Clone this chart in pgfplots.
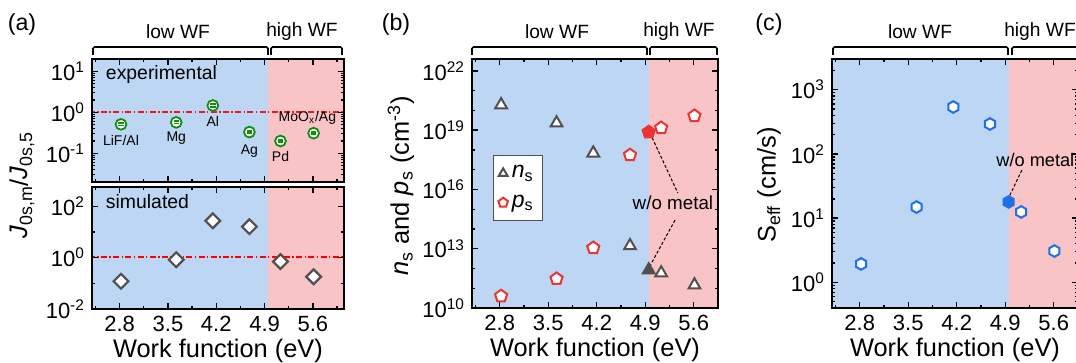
\documentclass[border=0pt]{standalone}
\usepackage{fontspec}
\setmainfont{Liberation Sans}
\usepackage{pgfplots}
\pgfplotsset{compat=1.18}
\usetikzlibrary{plotmarks}
\definecolor{bgblue}{RGB}{189,214,244}
\definecolor{bgred}{RGB}{248,196,198}
\definecolor{mgreen}{RGB}{20,140,20}
\definecolor{mred}{RGB}{236,52,52}
\definecolor{mblue}{RGB}{28,112,232}
\definecolor{mgrey}{RGB}{80,80,80}
\definecolor{refred}{RGB}{235,25,25}

\pgfdeclareplotmark{hexagon}{%
  \pgfpathmoveto{\pgfqpointpolar{90}{\pgfplotmarksize}}%
  \pgfpathlineto{\pgfqpointpolar{150}{\pgfplotmarksize}}%
  \pgfpathlineto{\pgfqpointpolar{210}{\pgfplotmarksize}}%
  \pgfpathlineto{\pgfqpointpolar{270}{\pgfplotmarksize}}%
  \pgfpathlineto{\pgfqpointpolar{330}{\pgfplotmarksize}}%
  \pgfpathlineto{\pgfqpointpolar{30}{\pgfplotmarksize}}%
  \pgfpathclose\pgfusepathqfillstroke}
\pgfdeclareplotmark{ocirc}{%
  \pgfpathcircle{\pgfpointorigin}{\pgfplotmarksize}%
  \pgfusepathqfillstroke
  \pgfpathmoveto{\pgfqpoint{-0.5\pgfplotmarksize}{0.22\pgfplotmarksize}}%
  \pgfpathlineto{\pgfqpoint{0.5\pgfplotmarksize}{0.22\pgfplotmarksize}}%
  \pgfpathmoveto{\pgfqpoint{-0.5\pgfplotmarksize}{-0.22\pgfplotmarksize}}%
  \pgfpathlineto{\pgfqpoint{0.5\pgfplotmarksize}{-0.22\pgfplotmarksize}}%
  \pgfusepathqstroke}

\newcommand{\tfont}{\fontsize{11}{13}\selectfont}
\newcommand{\lfont}{\fontsize{12.7}{15}\selectfont}
\newcommand{\sfont}{\fontsize{7}{8}\selectfont}

\pgfplotsset{
  /pgfplots/mystyle/.style={
    scale only axis, axis on top, anchor=south west,
    xmin=2.4,
    tick align=inside, tick pos=both,
    xtick={2.8,3.5,4.2,4.9,5.6},
    xticklabels={2.8,3.5,4.2,4.9,5.6},
    minor xtick={2.45,3.15,3.85,4.55,5.25,5.95},
    axis line style={line width=0.9pt},
    major tick length=3.2pt, minor tick length=1.7pt,
    every tick/.style={black, line width=0.7pt},
    tick label style={font=\tfont},
    xlabel={Work function (eV)}, xlabel style={font=\lfont, yshift=3pt},
    clip=true
  }
}
\tikzset{refline/.style={draw=refred, line width=0.85pt,
    dash pattern=on 3pt off 1.2pt on 0.7pt off 1.2pt}}

\begin{document}
\begin{tikzpicture}
% ---------- (a) top
\begin{axis}[mystyle, ymode=log, at={(46pt,90.5pt)}, width=126pt, height=61.5pt,
  xmax=6.05, ymin=0.02, ymax=20, xticklabels={}, xlabel={},
  ytick={0.1,1,10},
  yticklabels={10\textsuperscript{-1},10\textsuperscript{0},10\textsuperscript{1}},
  minor ytick={0.03,0.04,0.05,0.06,0.07,0.08,0.09,0.2,0.3,0.4,0.5,0.6,0.7,0.8,0.9,2,3,4,5,6,7,8,9}]
\fill[bgblue] (axis cs:2.0,1e-3) rectangle (axis cs:4.95,1e3);
\fill[bgred] (axis cs:4.95,1e-3) rectangle (axis cs:7,1e3);
\draw[refline] (axis cs:2.0,1) -- (axis cs:7,1);
\addplot[only marks, mark=ocirc, mark size=2.7pt, mark options={draw=mgreen, fill=white, line width=0.9pt}]
  coordinates {(2.82,0.51) (3.62,0.57) (4.15,1.47) (4.68,0.33) (5.13,0.2) (5.61,0.31)};
\node[font=\sfont] at (axis cs:2.82,0.2) {LiF/Al};
\node[font=\sfont] at (axis cs:3.62,0.236) {Mg};
\node[font=\sfont] at (axis cs:4.15,0.61) {Al};
\node[font=\sfont] at (axis cs:4.68,0.115) {Ag};
\node[font=\sfont] at (axis cs:5.13,0.083) {Pd};
\node[font=\sfont] at (axis cs:5.52,0.72) {MoO\textsubscript{x}/Ag};
\node[font=\fontsize{9.7}{11}\selectfont, anchor=west] at (axis cs:2.5,8.5) {experimental};
\end{axis}
% ---------- (a) bottom
\begin{axis}[mystyle, ymode=log, at={(46pt,27pt)}, width=126pt, height=61pt,
  xmax=6.05, ymin=0.01, ymax=560,
  ytick={0.01,1,100},
  yticklabels={10\textsuperscript{-2},10\textsuperscript{0},10\textsuperscript{2}},
  minor ytick={0.1,10}]
\fill[bgblue] (axis cs:2.0,1e-3) rectangle (axis cs:4.95,1e4);
\fill[bgred] (axis cs:4.95,1e-3) rectangle (axis cs:7,1e4);
\draw[red, line width=1pt, dash pattern=on 3pt off 1.2pt on 0.7pt off 1.2pt] (axis cs:2.0,1.03) -- (axis cs:7,1.03);
\addplot[only marks, mark=square*, mark size=2.6pt, mark options={rotate=45, draw=mgrey, fill=white, line width=1.1pt}]
  coordinates {(2.82,0.12) (3.62,0.83) (4.15,27) (4.68,16) (5.13,0.7) (5.61,0.18)};
\node[font=\fontsize{9.7}{11}\selectfont, anchor=west] at (axis cs:2.5,150) {simulated};
\end{axis}
% ---------- (b)
\begin{axis}[mystyle, ymode=log, at={(236pt,27.5pt)}, width=123pt, height=124.5pt,
  xmax=5.95, ymin=1e10, ymax=4e22,
  ytick={1e10,1e13,1e16,1e19,1e22},
  yticklabels={10\textsuperscript{10},10\textsuperscript{13},10\textsuperscript{16},10\textsuperscript{19},10\textsuperscript{22}},
  minor ytick={1e11,1e12,1e14,1e15,1e17,1e18,1e20,1e21},
  legend style={at={(0.085,0.614)}, anchor=north west, draw=mgrey, line width=0.5pt, fill=white,
    font=\fontsize{11.5}{13}\selectfont, inner xsep=2.5pt, inner ysep=3pt, row sep=3pt},
  legend image post style={mark size=2.5pt},
  legend cell align=left]
\fill[bgblue] (axis cs:2.0,1e5) rectangle (axis cs:4.95,1e25);
\fill[bgred] (axis cs:4.95,1e5) rectangle (axis cs:7,1e25);
\addplot[only marks, mark=triangle*, mark size=3.4pt, mark options={draw=mgrey, fill=white, line width=1pt}]
  coordinates {(2.82,1.9e20) (3.62,2.3e19) (4.15,6.9e17) (4.68,1.4e13) (5.13,5.9e11) (5.61,1.45e11)};
\addlegendentry{\textit{n}\textsubscript{s}}
\addplot[only marks, mark=pentagon*, mark size=3.2pt, mark options={draw=mred, fill=white, line width=1pt}]
  coordinates {(2.82,4e10) (3.62,3e11) (4.15,1.1e13) (4.68,5.5e17) (5.13,1.3e19) (5.61,5.3e19)};
\addlegendentry{\textit{p}\textsubscript{s}}
\addplot[only marks, mark=triangle*, mark size=3.4pt, mark options={draw=mgrey, fill=mgrey, line width=1pt}, forget plot]
  coordinates {(4.95,8.3e11)};
\addplot[only marks, mark=pentagon*, mark size=3.2pt, mark options={draw=mred, fill=mred, line width=1pt}, forget plot]
  coordinates {(4.95,8e18)};
\draw[black, line width=0.5pt, dash pattern=on 1.5pt off 1pt] (axis cs:4.97,7e18) -- (axis cs:5.37,6.6e15);
\draw[black, line width=0.5pt, dash pattern=on 1.5pt off 1pt] (axis cs:5.33,2.8e14) -- (axis cs:4.96,1.2e12);
\node[font=\fontsize{9.4}{11}\selectfont] at (axis cs:5.30,2e15) {w/o metal};
\end{axis}
% ---------- (c)
\begin{axis}[mystyle, ymode=log, at={(416pt,27.5pt)}, width=123pt, height=124.5pt,
  xmax=5.95, ymin=0.4, ymax=3000,
  ytick={1,10,100,1000},
  yticklabels={10\textsuperscript{0},10\textsuperscript{1},10\textsuperscript{2},10\textsuperscript{3}},
  minor ytick={0.5,0.6,0.7,0.8,0.9,2,3,4,5,6,7,8,9,20,30,40,50,60,70,80,90,200,300,400,500,600,700,800,900,2000}]
\fill[bgblue] (axis cs:2.0,1e-2) rectangle (axis cs:4.95,1e5);
\fill[bgred] (axis cs:4.95,1e-2) rectangle (axis cs:7,1e5);
\addplot[only marks, mark=hexagon, mark size=2.9pt, mark options={draw=mblue, fill=white, line width=1pt}]
  coordinates {(2.82,1.94) (3.62,14.9) (4.15,537) (4.68,292) (5.13,12.5) (5.61,3.08)};
\addplot[only marks, mark=hexagon, mark size=2.9pt, mark options={draw=mblue, fill=mblue, line width=1pt}]
  coordinates {(4.95,17.9)};
\draw[black, line width=0.5pt, dash pattern=on 1.5pt off 1pt] (axis cs:5.14,56) -- (axis cs:4.96,22);
\end{axis}
% ---------- decorations (px coordinates)
\begin{scope}[x=0.5pt, y=-0.5pt, yshift=181.5pt]
\begin{scope}[line width=0.8pt, rounded corners=0.8pt]
\draw (93,55) -- (93,47) -- (268,47) -- (268,55);
\draw (271,55) -- (271,47) -- (342,47) -- (342,55);
\draw (472,55) -- (472,47) -- (647,47) -- (647,55);
\draw (650,55) -- (650,47) -- (717,47) -- (717,55);
\draw (833,55) -- (833,47) -- (1008,47) -- (1008,55);
\draw (1012,55) -- (1012,47) -- (1080,47) -- (1080,55);
\end{scope}
\node[font=\fontsize{9.6}{11}\selectfont] at (178,32) {low WF};
\node[font=\fontsize{9.6}{11}\selectfont] at (302,32) {high WF};
\node[font=\fontsize{9.6}{11}\selectfont] at (557,32) {low WF};
\node[font=\fontsize{9.6}{11}\selectfont] at (679,32) {high WF};
\node[font=\fontsize{9.6}{11}\selectfont] at (920,32) {low WF};
\node[font=\fontsize{9.6}{11}\selectfont] at (1040,32) {high WF};
\node[font=\fontsize{11.6}{13}\selectfont] at (22,25) {(a)};
\node[font=\fontsize{11.6}{13}\selectfont] at (396,25) {(b)};
\node[font=\fontsize{11.6}{13}\selectfont] at (769,25) {(c)};
\node[font=\lfont, rotate=90] at (22,185) {\textit{J}\textsubscript{0s,m}/\textit{J}\textsubscript{0s,5}};
\node[font=\lfont, rotate=90] at (401,186) {\textit{n}\textsubscript{s} and \textit{p}\textsubscript{s} (cm\textsuperscript{-3})};
\node[font=\lfont, rotate=90] at (769,185) {S\textsubscript{eff} (cm/s)};
\node[font=\fontsize{9.1}{11}\selectfont, anchor=west, inner sep=0pt] at (996,160) {w/o metal};
\end{scope}
\pgfresetboundingbox
\path[use as bounding box] (0,0) rectangle (538pt,181.5pt);
\end{tikzpicture}
\end{document}
